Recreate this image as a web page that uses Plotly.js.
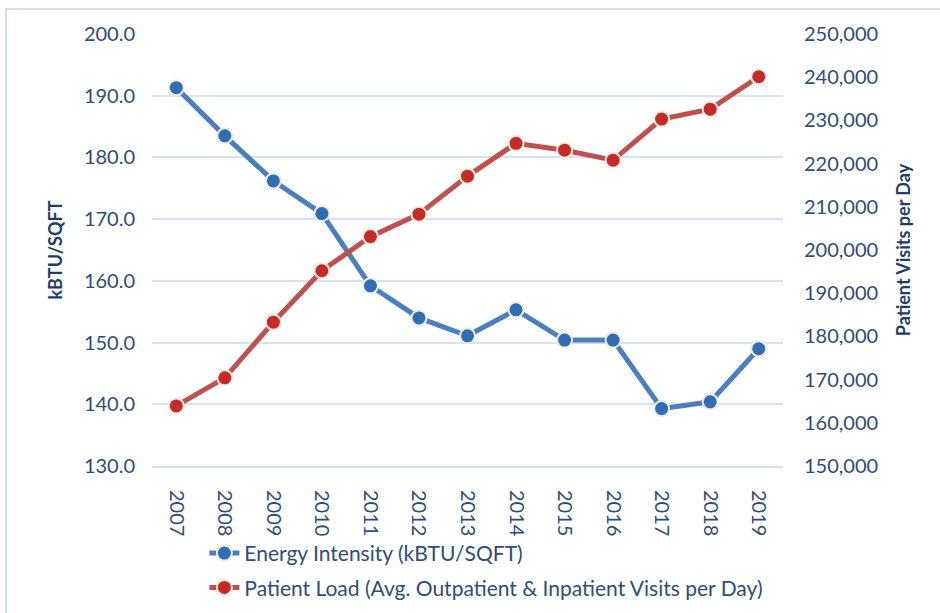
<!DOCTYPE html>
<html>
<head>
<meta charset="utf-8">
<script src="https://cdn.plot.ly/plotly-3.0.1.min.js"></script>
<style>
  html, body { margin: 0; padding: 0; background: #ffffff; }
  #frame { position: absolute; left: 5px; top: 8px; width: 1000px; height: 700px;
           border-left: 2px solid #d3e0f0; border-top: 2px solid #d3e0f0; box-sizing: border-box; }
  #chart { position: absolute; left: 0; top: 0; width: 940px; height: 613px; }
</style>
</head>
<body>
<div id="frame"></div>
<div id="chart"></div>
<script>
const years = ["2007","2008","2009","2010","2011","2012","2013","2014","2015","2016","2017","2018","2019"];
const energyIntensity = [191.3, 183.5, 176.2, 170.9, 159.2, 154.0, 151.1, 155.3, 150.4, 150.4, 139.3, 140.4, 149.0];
const patientLoad = [163900, 170400, 183300, 195200, 203100, 208300, 217100, 224700, 223100, 220800, 230300, 232600, 240100];
const energyName = "Energy Intensity (kBTU/SQFT)";
const patientName = "Patient Load (Avg. Outpatient & Inpatient Visits per Day)";
const leftTitle = "kBTU/SQFT";
const rightTitle = "Patient Visits per Day";

const tickColor = "#2e4c7c";
const titleColor = "#1f3d6b";
const gridColor = "#d5e2f2";
const fontFam = "Lato, 'Open Sans', sans-serif";

const traces = [
  {
    x: years, y: energyIntensity, name: energyName, type: "scatter", mode: "lines+markers",
    legendgroup: "a",
    line: { color: "#4a7ebf", width: 5 },
    marker: { color: "#2f6db5", size: 15, line: { color: "#f0ebdc", width: 2 } },
    yaxis: "y"
  },
  {
    x: years, y: patientLoad, name: patientName, type: "scatter", mode: "lines+markers",
    legendgroup: "b",
    line: { color: "#c0504d", width: 5 },
    marker: { color: "#c42a28", size: 15, line: { color: "#f0ebdc", width: 2 } },
    yaxis: "y2"
  }
];

const layout = {
  width: 940, height: 613,
  paper_bgcolor: "rgba(0,0,0,0)", plot_bgcolor: "rgba(0,0,0,0)",
  margin: { l: 152, r: 157, t: 34, b: 147, pad: 0, autoexpand: false },
  font: { family: fontFam, color: tickColor, size: 20 },
  showlegend: true,
  legend: {
    orientation: "v", x: 0.083, xanchor: "left", y: -0.155, yanchor: "top",
    font: { family: fontFam, size: 21, color: tickColor },
    tracegroupgap: 4, bgcolor: "rgba(0,0,0,0)"
  },
  xaxis: {
    type: "category", range: [-0.5, 12.5],
    tickangle: 90, tickfont: { family: fontFam, size: 20, color: tickColor },
    showgrid: false, showline: true, linecolor: gridColor, linewidth: 2,
    ticks: "", ticklabelstandoff: 18, automargin: false, zeroline: false
  },
  yaxis: {
    range: [130, 200], dtick: 10, tickformat: ".1f",
    tickfont: { family: fontFam, size: 20, color: tickColor },
    showgrid: true, gridcolor: gridColor, gridwidth: 2, zeroline: false,
    ticks: "", ticklabelstandoff: 16, automargin: false,
    title: { text: leftTitle, standoff: 16, font: { family: fontFam, size: 18, color: titleColor, weight: "bold" } }
  },
  yaxis2: {
    overlaying: "y", side: "right", range: [150000, 250000], dtick: 10000, tickformat: ",d",
    tickfont: { family: fontFam, size: 20, color: tickColor },
    showgrid: false, zeroline: false, ticks: "", ticklabelstandoff: 20, automargin: false,
    title: { text: rightTitle, standoff: 20, font: { family: fontFam, size: 18, color: titleColor, weight: "bold" } }
  }
};

Plotly.newPlot("chart", traces, layout, { displayModeBar: false, staticPlot: true });
</script>
</body>
</html>
